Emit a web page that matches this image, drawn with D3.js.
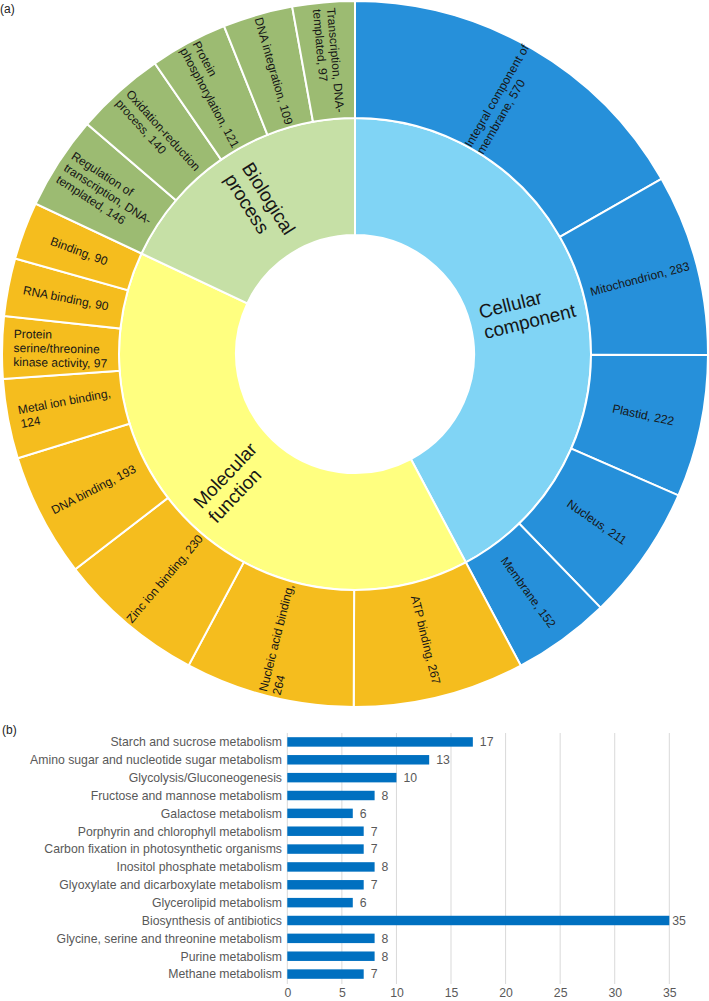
<!DOCTYPE html>
<html><head><meta charset="utf-8">
<script src="https://cdn.jsdelivr.net/npm/d3@7"></script>
<style>
body{margin:0;background:#fff}
svg{display:block;font-family:"Liberation Sans",Arial,sans-serif}
</style>
</head><body><svg id="c" width="709" height="1001"></svg>
<script>
// ---------- data (a) ----------
const categories = ["Cellular component", "Molecular function", "Biological process"];
const categoryLabels = ["Cellular\ncomponent", "Molecular\nfunction", "Biological\nprocess"];
// "|" at the end of a term means the value goes on its own line
const ccTerms = ["Integral component of\nmembrane", "Mitochondrion", "Plastid", "Nucleus", "Membrane"];
const ccValues = [570, 283, 222, 211, 152];
const mfTerms = ["ATP binding", "Nucleic acid binding|", "Zinc ion binding", "DNA binding", "Metal ion binding|",
  "Protein\nserine/threonine\nkinase activity", "RNA binding", "Binding"];
const mfValues = [267, 264, 230, 193, 124, 97, 90, 90];
const bpTerms = ["Regulation of\ntranscription, DNA-\ntemplated", "Oxidation-reduction\nprocess", "Protein\nphosphorylation",
  "DNA integration", "Transcription, DNA-\ntemplated"];
const bpValues = [146, 140, 121, 109, 97];
const innerColors = ["#80D4F5", "#FFFF80", "#C6E0A6"];
const outerColors = ["#2690DA", "#F5BD1E", "#9CBB72"];

// ---------- data (b) ----------
const pathways = ["Starch and sucrose metabolism", "Amino sugar and nucleotide sugar metabolism", "Glycolysis/Gluconeogenesis",
  "Fructose and mannose metabolism", "Galactose metabolism", "Porphyrin and chlorophyll metabolism",
  "Carbon fixation in photosynthetic organisms", "Inositol phosphate metabolism", "Glyoxylate and dicarboxylate metabolism",
  "Glycerolipid metabolism", "Biosynthesis of antibiotics", "Glycine, serine and threonine metabolism",
  "Purine metabolism", "Methane metabolism"];
const pathwayCounts = [17, 13, 10, 8, 6, 7, 7, 8, 7, 6, 35, 8, 8, 7];
const xTicks = [0, 5, 10, 15, 20, 25, 30, 35];

const svg = d3.select("#c");

// panel letters
svg.append("text").attr("x", 0).attr("y", 13).attr("font-size", 12).attr("fill", "#222").text("(a)");
svg.append("text").attr("x", 2).attr("y", 734).attr("font-size", 12).attr("fill", "#222").text("(b)");

// ---------- sunburst ----------
const cx = 355, cy = 354;
const termSets = [ccTerms, mfTerms, bpTerms];
const valueSets = [ccValues, mfValues, bpValues];
const rootData = {
  name: "root",
  children: categories.map((c, i) => ({
    name: c, label: categoryLabels[i], cat: i,
    children: termSets[i].map((t, j) => ({ name: t, value: valueSets[i][j], cat: i }))
  }))
};
const root = d3.hierarchy(rootData).sum(d => d.value || 0);
d3.partition().size([2 * Math.PI, 3])(root);
const rScale = d3.scaleLinear().domain([1, 2, 3]).range([119, 236, 353]);
const arc = d3.arc()
  .startAngle(d => d.x0).endAngle(d => d.x1)
  .innerRadius(d => rScale(d.y0)).outerRadius(d => rScale(d.y1));

const g = svg.append("g").attr("transform", `translate(${cx},${cy})`);
const nodes = root.descendants().filter(d => d.depth > 0);

g.selectAll("path.seg").data(nodes).join("path")
  .attr("class", "seg")
  .attr("d", arc)
  .attr("fill", d => d.depth === 1 ? innerColors[d.data.cat] : outerColors[d.data.cat])
  .attr("stroke", "#fff").attr("stroke-width", 2);

const defs = svg.append("defs");
nodes.forEach((d, i) => {
  defs.append("clipPath").attr("id", "clip" + i).append("path").attr("d", arc(d));
});

function labelLines(d) {
  if (d.depth === 1) return d.data.label.split("\n");
  let n = d.data.name, txt;
  if (n.endsWith("|")) txt = n.slice(0, -1) + ",\n" + d.value;
  else txt = n + ", " + d.value;
  return txt.split("\n");
}

nodes.forEach((d, i) => {
  const a = (d.x0 + d.x1) / 2;
  const deg = a * 180 / Math.PI;
  const r = (rScale(d.y0) + rScale(d.y1)) / 2;
  const rot = deg < 180 ? deg - 90 : deg - 270;
  const fs = d.depth === 1 ? 19 : 12;
  const lh = d.depth === 1 ? 21 : 14;
  const wrap = g.append("g").attr("clip-path", `url(#clip${i})`);
  const lg = wrap.append("g")
    .attr("transform", `translate(${r * Math.sin(a)},${-r * Math.cos(a)}) rotate(${rot})`);
  const lines = labelLines(d);
  const t = lg.append("text").attr("font-size", fs).attr("fill", "#161616");
  const spans = lines.map((ln, k) => t.append("tspan")
    .attr("y", (k - (lines.length - 1) / 2) * lh + fs * 0.35).text(ln));
  let maxW = 0;
  spans.forEach(s => { maxW = Math.max(maxW, s.node().getComputedTextLength()); });
  spans.forEach(s => s.attr("x", -maxW / 2));
});

// ---------- bar chart ----------
const x = d3.scaleLinear().domain([0, 35]).range([287.3, 669.3]);
const y = d3.scaleBand().domain(pathways).range([733, 983]).paddingInner(0.47).paddingOuter(0.235);
const bg = svg.append("g");

bg.selectAll("line.grid").data(xTicks).join("line")
  .attr("class", "grid")
  .attr("x1", d => x(d)).attr("x2", d => x(d))
  .attr("y1", 733).attr("y2", 984)
  .attr("stroke", "#d9d9d9").attr("stroke-width", 1);

bg.selectAll("rect.bar").data(pathways).join("rect")
  .attr("class", "bar")
  .attr("x", x(0))
  .attr("y", d => y(d))
  .attr("width", (d, i) => x(pathwayCounts[i]) - x(0))
  .attr("height", y.bandwidth())
  .attr("fill", "#0070C0");

bg.selectAll("text.cat").data(pathways).join("text")
  .attr("class", "cat")
  .attr("x", 282)
  .attr("y", d => y(d) + y.bandwidth() / 2 + 4.3)
  .attr("text-anchor", "end")
  .attr("font-size", 12.25).attr("fill", "#595959")
  .text(d => d);

bg.selectAll("text.val").data(pathways).join("text")
  .attr("class", "val")
  .attr("x", (d, i) => x(pathwayCounts[i]) + (pathwayCounts[i] >= 35 ? 3 : 7))
  .attr("y", d => y(d) + y.bandwidth() / 2 + 4.3)
  .attr("font-size", 12.25).attr("fill", "#595959")
  .text((d, i) => pathwayCounts[i]);

const axis = d3.axisBottom(x).tickValues(xTicks).tickSize(0).tickPadding(0);
const ag = bg.append("g").attr("transform", "translate(0,988)").call(axis);
ag.select(".domain").remove();
ag.selectAll("text").attr("font-size", 12.25).attr("fill", "#595959")
  .attr("font-family", '"Liberation Sans",Arial,sans-serif').attr("dy", "0.71em");
</script>
</body></html>
